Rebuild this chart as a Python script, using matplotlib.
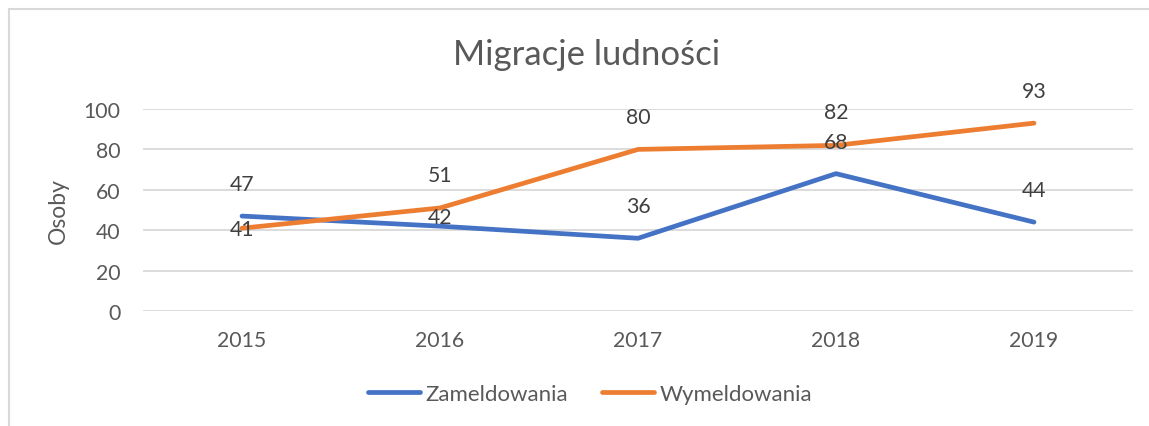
import matplotlib
matplotlib.use("Agg")
import matplotlib.pyplot as plt
from matplotlib.patches import Rectangle

years = ["2015", "2016", "2017", "2018", "2019"]
zameldowania = [47, 42, 36, 68, 44]
wymeldowania = [41, 51, 80, 82, 93]
yticks = [0, 20, 40, 60, 80, 100]

# label offsets in pixels (style)
off_z = [32, 9.5, 32, 32, 32]
off_w = [-1, 33, 32, 33, 32]

W, H = 1149, 427
fig = plt.figure(figsize=(W / 100, H / 100), dpi=100)
plt.rcParams['font.family'] = ['Lato', 'DejaVu Sans']
txt = '#595959'
blue = '#4472C4'
orange = '#ED7D31'
fs = 15.3

fig.patches.append(Rectangle((9 / W, -0.1), 1.2, (H - 10) / H + 0.1, transform=fig.transFigure,
                             fill=False, edgecolor='#D9D9D9', linewidth=1.5))

ax = fig.add_axes([143 / W, (H - 312) / H, (1133 - 143) / W, (312 - 110) / H])
x = list(range(len(years)))
ax.plot(x, zameldowania, color=blue, lw=3.4, solid_capstyle='round', solid_joinstyle='round',
        label='Zameldowania', zorder=3)
ax.plot(x, wymeldowania, color=orange, lw=3.4, solid_capstyle='round', solid_joinstyle='round',
        label='Wymeldowania', zorder=3)

for xi, v, o in zip(x, zameldowania, off_z):
    ax.annotate(str(v), (xi, v), xytext=(0, o * 0.72), textcoords='offset points',
                ha='center', va='center', fontsize=fs, color='#404040', zorder=4)
for xi, v, o in zip(x, wymeldowania, off_w):
    ax.annotate(str(v), (xi, v), xytext=(0, o * 0.72), textcoords='offset points',
                ha='center', va='center', fontsize=fs, color='#404040', zorder=4)

ax.set_xlim(-0.5, len(years) - 0.5)
ax.set_ylim(0, 100)
ax.set_xticks(x)
ax.set_xticklabels(years)
ax.set_yticks(yticks)
ax.tick_params(axis='both', length=0, labelsize=fs, colors=txt)
ax.tick_params(axis='x', pad=14)
ax.tick_params(axis='y', pad=16)
ax.grid(axis='y', color='#D9D9D9', lw=1.3)
ax.set_axisbelow(True)
for s in ax.spines.values():
    s.set_visible(False)
ax.set_ylabel('Osoby', fontsize=16.5, color=txt, labelpad=11)

fig.text((455 + 718) / 2 / W, 1 - 55 / H, 'Migracje ludności', ha='center', va='center',
         fontsize=25, color=txt)

fig.legend(loc='center', bbox_to_anchor=(590 / W, 1 - 395 / H), ncol=2, frameon=False,
           fontsize=16, labelcolor=txt, handlelength=2.35, handletextpad=0.25, columnspacing=1.5)

fig.savefig('out.png', dpi=100)
